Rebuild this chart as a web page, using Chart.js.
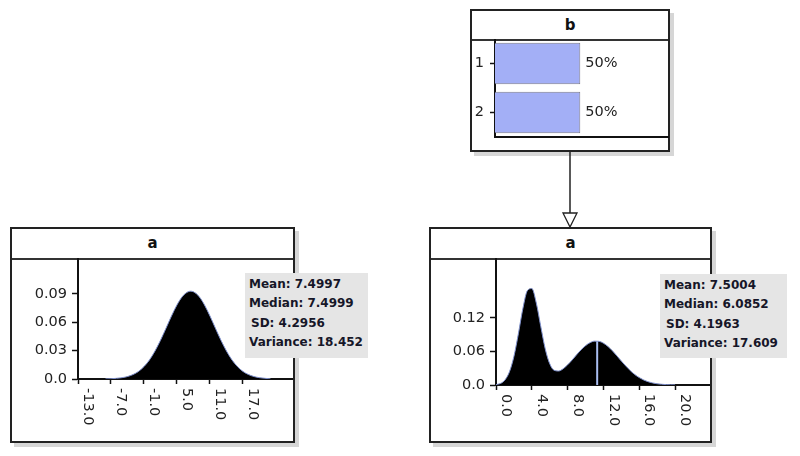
<!DOCTYPE html>
<html>
<head>
<meta charset="utf-8">
<script src="https://cdn.jsdelivr.net/npm/chart.js@4/dist/chart.umd.min.js"></script>
<style>
  html, body { margin: 0; padding: 0; background: #ffffff; }
  body { width: 800px; height: 456px; position: relative; overflow: hidden; font-family: "DejaVu Sans", sans-serif; }
  .box { position: absolute; box-sizing: border-box; border: 2px solid #222; background: #fff; box-shadow: 4px 4px 0 #d6d6d6; }
  .title { position: absolute; left: 0; right: 0; top: 0; box-sizing: border-box; border-bottom: 2px solid #333; text-align: center; font-weight: bold; font-size: 15px; color: #111; }
  canvas.c { position: absolute; }
  .stats { position: absolute; background: #e5e5e5; font-weight: bold; font-size: 12px; color: #161628; line-height: 19.3px; box-sizing: border-box; padding: 2px 0 0 4px; z-index: 5; white-space: nowrap; }
  .stats .sd { padding-left: 2px; }
  svg.conn { position: absolute; left: 0; top: 0; z-index: 3; }
</style>
</head>
<body>

<div class="box" style="left:10px;top:227px;width:285px;height:216px;">
  <div class="title" style="height:31px;line-height:29px;">a</div>
</div>
<div class="box" style="left:429px;top:227px;width:283px;height:216px;">
  <div class="title" style="height:31px;line-height:29px;">a</div>
</div>
<div class="box" style="left:470px;top:9px;width:200px;height:143px;">
  <div class="title" style="height:30px;line-height:28px;">b</div>
</div>

<canvas id="leftChart" class="c" width="281" height="183" style="left:12px;top:258px;"></canvas>
<canvas id="rightChart" class="c" width="279" height="183" style="left:431px;top:258px;"></canvas>
<canvas id="barChart" class="c" width="197" height="111" style="left:472px;top:39px;"></canvas>

<div class="stats" style="left:245px;top:273px;width:123px;height:85px;">
  <div>Mean: 7.4997</div><div>Median: 7.4999</div><div class="sd">SD: 4.2956</div><div>Variance: 18.452</div>
</div>
<div class="stats" style="left:660px;top:274px;width:127px;height:84px;">
  <div>Mean: 7.5004</div><div>Median: 6.0852</div><div class="sd">SD: 4.1963</div><div>Variance: 17.609</div>
</div>

<svg class="conn" width="800" height="456">
  <line x1="570" y1="152" x2="570" y2="213" stroke="#222" stroke-width="1.5"/>
  <polygon points="563,213 577,213 570,227" fill="#fff" stroke="#222" stroke-width="1.3"/>
</svg>

<script>
// ---------- data ----------
const leftX = [-8, -7, -6, -5, -4, -3, -2, -1, 0, 1, 2, 3, 4, 5, 6, 7, 7.5, 8, 9, 10, 11, 12, 13, 14, 15, 16, 17, 18, 19, 20, 21, 22];
const leftY = [0.0001, 0.0003, 0.0007, 0.0014, 0.0026, 0.0047, 0.0080, 0.0131, 0.0202, 0.0296, 0.0409, 0.0536, 0.0666, 0.0784, 0.0874, 0.0922, 0.0929, 0.0922, 0.0874, 0.0784, 0.0666, 0.0536, 0.0409, 0.0296, 0.0202, 0.0131, 0.0080, 0.0047, 0.0026, 0.0014, 0.0007, 0.0002];
const leftXTicks = [-13, -7, -1, 5, 11, 17];
const leftXTickLabels = ["-13.0", "-7.0", "-1.0", "5.0", "11.0", "17.0"];
const leftYTicks = [0, 0.03, 0.06, 0.09];
const leftYTickLabels = ["0.0", "0.03", "0.06", "0.09"];

const rightX = [0, 0.5, 1, 1.5, 2, 2.5, 3, 3.5, 4, 4.5, 5, 5.5, 6, 6.5, 7, 7.5, 8, 8.5, 9, 9.5, 10, 10.5, 11, 11.5, 12, 12.5, 13, 13.5, 14, 14.5, 15, 15.5, 16, 16.5, 17, 17.5, 18, 18.5, 19, 19.5, 20];
const rightY = [0.0007, 0.0028, 0.0090, 0.0235, 0.0510, 0.0917, 0.1365, 0.1684, 0.1722, 0.1465, 0.1046, 0.0645, 0.0380, 0.0262, 0.0250, 0.0290, 0.0360, 0.0446, 0.0540, 0.0628, 0.0702, 0.0756, 0.0783, 0.0780, 0.0747, 0.0689, 0.0611, 0.0521, 0.0427, 0.0338, 0.0256, 0.0187, 0.0132, 0.0089, 0.0058, 0.0036, 0.0022, 0.0013, 0.0007, 0.0004, 0.0002];
const rightXTicks = [0, 4, 8, 12, 16, 20];
const rightXTickLabels = ["0.0", "4.0", "8.0", "12.0", "16.0", "20.0"];
const rightYTicks = [0, 0.06, 0.12];
const rightYTickLabels = ["0.0", "0.06", "0.12"];
const markerX = [11.3, 11.3];
const markerY = [0, 0.0778];

const barCategories = ["1", "2"];
const barValues = [50, 50];
const barLabels = ["50%", "50%"];

// ---------- helpers ----------
const TICK_FONT = { family: "DejaVu Sans", size: 14.5 };
const toPoints = (xs, ys) => xs.map((x, i) => ({ x: x, y: ys[i] }));

const rotatedXLabels = {
  id: 'rotatedXLabels',
  afterDraw(chart, args, opts) {
    const sx = chart.scales.x;
    const ctx = chart.ctx;
    const y0 = chart.chartArea.bottom;
    ctx.save();
    ctx.font = "14.5px 'DejaVu Sans'";
    ctx.fillStyle = '#222';
    ctx.textAlign = 'left';
    ctx.textBaseline = 'middle';
    opts.values.forEach((v, i) => {
      const px = sx.getPixelForValue(v);
      ctx.save();
      ctx.translate(px + 10, y0 + 9);
      ctx.rotate(Math.PI / 2);
      ctx.fillText(opts.labels[i], 0, 0);
      ctx.restore();
    });
    ctx.restore();
  }
};

function densityChart(id, cfg) {
  const canvas = document.getElementById(id);
  const H = canvas.height;
  const datasets = [{
    data: toPoints(cfg.xs, cfg.ys),
    borderColor: '#7f90cc',
    borderWidth: 1,
    backgroundColor: '#000000',
    fill: 'origin',
    pointRadius: 0,
    cubicInterpolationMode: 'monotone',
    order: 2
  }];
  if (cfg.marker) {
    datasets.push({
      data: toPoints(cfg.marker[0], cfg.marker[1]),
      borderColor: '#a9bdf0',
      borderWidth: 2,
      fill: false,
      pointRadius: 0,
      order: 1
    });
  }
  return new Chart(canvas, {
    type: 'line',
    data: { datasets },
    plugins: [rotatedXLabels],
    options: {
      responsive: false,
      animation: false,
      devicePixelRatio: 1,
      layout: { padding: 0 },
      plugins: {
        legend: { display: false },
        tooltip: { enabled: false },
        rotatedXLabels: { values: cfg.xTicks, labels: cfg.xLabels }
      },
      scales: {
        x: {
          type: 'linear',
          min: cfg.xMin, max: cfg.xMax,
          afterBuildTicks: s => { s.ticks = cfg.xTicks.map(v => ({ value: v })); },
          ticks: { display: false },
          grid: { drawOnChartArea: false, drawTicks: true, tickLength: 5, tickColor: '#111', tickWidth: 1.5 },
          border: { color: '#111', width: 2 },
          afterFit: s => { s.height = H - cfg.axisY; s.paddingLeft = 0; s.paddingRight = 0; }
        },
        y: {
          type: 'linear',
          min: 0, max: cfg.yMax,
          afterBuildTicks: s => { s.ticks = cfg.yTicks.map(v => ({ value: v })); },
          ticks: {
            font: TICK_FONT, color: '#222', padding: 5,
            callback: (v, i) => cfg.yLabels[i]
          },
          grid: { drawOnChartArea: false, drawTicks: true, tickLength: 6, tickColor: '#111', tickWidth: 1.5 },
          border: { color: '#111', width: 2 },
          afterFit: s => { s.width = cfg.axisX; s.paddingTop = 0; s.paddingBottom = 0; }
        }
      }
    }
  });
}

densityChart('leftChart', {
  xs: leftX, ys: leftY,
  xMin: -13, xMax: 26.1, yMax: 0.128,
  xTicks: leftXTicks, xLabels: leftXTickLabels,
  yTicks: leftYTicks, yLabels: leftYTickLabels,
  axisX: 66, axisY: 121
});

densityChart('rightChart', {
  xs: rightX, ys: rightY,
  xMin: 0, xMax: 23.9, yMax: 0.2268,
  xTicks: rightXTicks, xLabels: rightXTickLabels,
  yTicks: rightYTicks, yLabels: rightYTickLabels,
  marker: [markerX, markerY],
  axisX: 65, axisY: 127
});

// ---------- bar chart ----------
const barValueLabels = {
  id: 'barValueLabels',
  afterDatasetsDraw(chart) {
    const ctx = chart.ctx;
    const meta = chart.getDatasetMeta(0);
    ctx.save();
    ctx.font = "14.5px 'DejaVu Sans'";
    ctx.fillStyle = '#222';
    ctx.textAlign = 'left';
    ctx.textBaseline = 'middle';
    meta.data.forEach((el, i) => {
      ctx.fillText(barLabels[i], el.x + 5, el.y);
    });
    ctx.restore();
  }
};

(function () {
  const canvas = document.getElementById('barChart');
  const H = canvas.height;
  new Chart(canvas, {
    type: 'bar',
    data: {
      labels: barCategories,
      datasets: [{
        data: barValues,
        backgroundColor: '#a3aff6',
        borderColor: '#7a7a8a',
        borderWidth: 1,
        barPercentage: 0.85,
        categoryPercentage: 1
      }]
    },
    plugins: [barValueLabels],
    options: {
      indexAxis: 'y',
      responsive: false,
      animation: false,
      devicePixelRatio: 1,
      layout: { padding: 0 },
      plugins: { legend: { display: false }, tooltip: { enabled: false } },
      scales: {
        x: {
          min: 0, max: 102,
          ticks: { display: false },
          grid: { display: false, drawTicks: false },
          border: { color: '#111', width: 2 },
          afterFit: s => { s.height = H - 98; s.paddingLeft = 0; s.paddingRight = 0; }
        },
        y: {
          ticks: { font: TICK_FONT, color: '#222', padding: 6 },
          grid: { offset: false, drawOnChartArea: false, drawTicks: true, tickLength: 5, tickColor: '#111', tickWidth: 1.5 },
          border: { color: '#111', width: 2 },
          afterFit: s => { s.width = 23; s.paddingTop = 0; s.paddingBottom = 0; }
        }
      }
    }
  });
})();
</script>
</body>
</html>
